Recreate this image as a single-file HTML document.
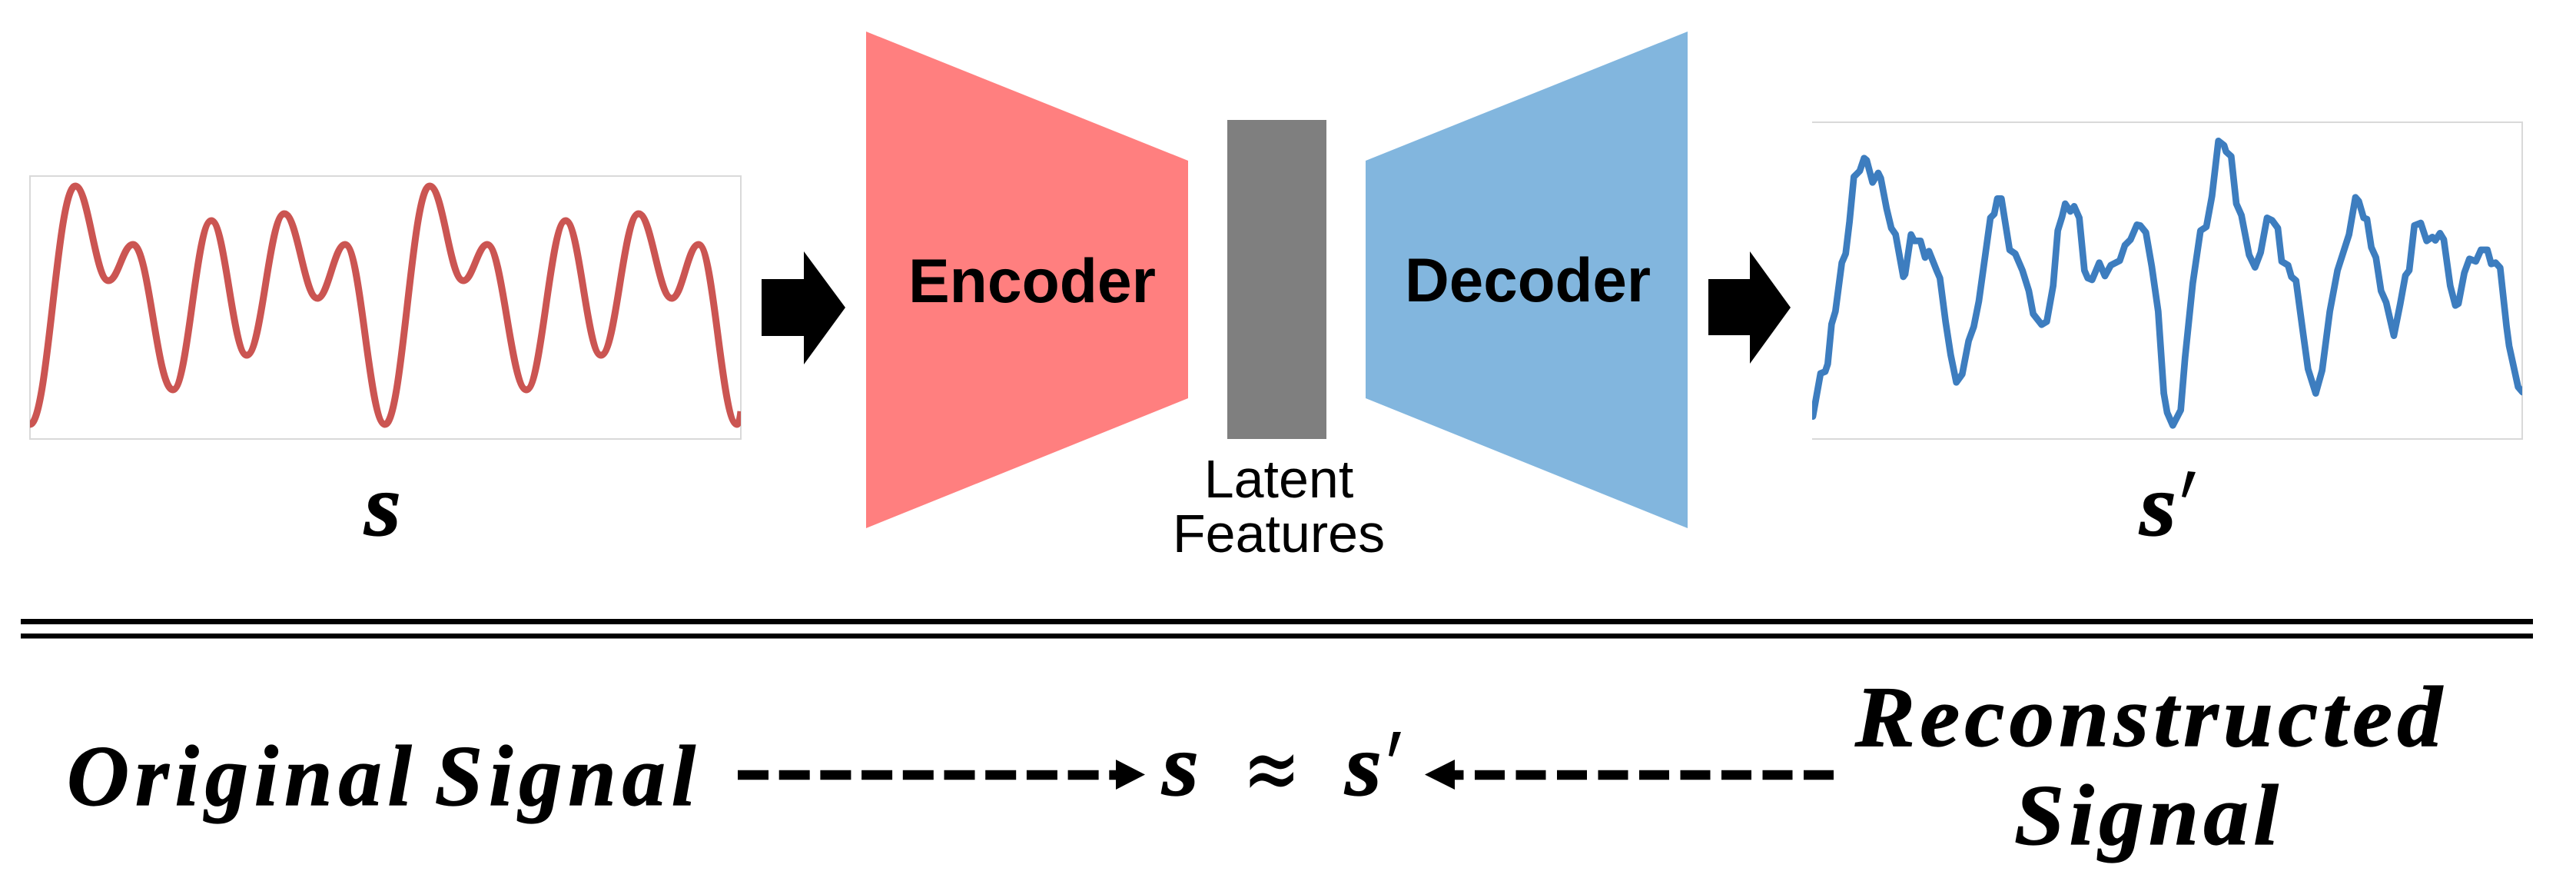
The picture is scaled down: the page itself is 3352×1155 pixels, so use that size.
<!DOCTYPE html>
<html><head><meta charset="utf-8"><style>
html,body{margin:0;padding:0;background:#fff}
svg{display:block}
text{font-family:"Liberation Serif",serif;font-weight:bold;font-style:italic;fill:#000}
text.m{stroke:#000;stroke-width:1.2px}
text.s{font-family:"Liberation Sans",Arial,sans-serif;font-style:normal}
</style></head><body>
<svg width="3352" height="1155" viewBox="0 0 3352 1155" xmlns="http://www.w3.org/2000/svg">
<defs>
<clipPath id="c1"><rect x="39" y="229" width="925" height="342"/></clipPath>
<clipPath id="c2"><rect x="2358" y="159" width="924" height="412"/></clipPath>
</defs>
<rect width="3352" height="1155" fill="#fff"/>
<rect x="39" y="229" width="925" height="342" fill="none" stroke="#d9d9d9" stroke-width="2"/>
<path clip-path="url(#c1)" fill="none" stroke="#cb5552" stroke-width="9" d="M39,552 C63,552 74,242 98,242 C115,242 124,365 141,365 C154,365 160,318 173,318 C194,318 204,507 225,507 C245,507 255,287 275,287 C293,287 303,462 321,462 C341,462 350,278 370,278 C387,278 396,388 413,388 C427,388 435,318 449,318 C470,318 480,552 501,552 C524,552 536,242 559,242 C577,242 585,365 603,365 C615,365 622,318 634,318 C654,318 665,507 685,507 C705,507 716,287 736,287 C754,287 764,462 782,462 C802,462 811,278 831,278 C848,278 857,388 874,388 C888,388 895,318 909,318 C929,318 939,552 959,552 C961,552 963,545 964,535"/>
<polygon points="991,363 1046,363 1046,327 1100,400 1046,474 1046,437 991,437" fill="#000"/>
<polygon points="1127,41 1546,209 1546,518 1127,687" fill="#ff7f7f"/>
<rect x="1597" y="156" width="129" height="415" fill="#7f7f7f"/>
<polygon points="2196,41 1777,209 1777,518 2196,687" fill="#82b6de"/>
<text class="s" x="1182" y="393" font-size="81" textLength="322" lengthAdjust="spacingAndGlyphs">Encoder</text>
<text class="s" x="1828" y="392" font-size="81" textLength="320" lengthAdjust="spacingAndGlyphs">Decoder</text>
<text class="s" x="1664" y="647" font-size="70" text-anchor="middle" style="font-weight:normal">Latent</text>
<text class="s" x="1664" y="718" font-size="70" text-anchor="middle" style="font-weight:normal">Features</text>
<polygon points="2223,363 2277,363 2277,327 2330,400 2277,473 2277,436 2223,436" fill="#000"/>
<path d="M2358,159H3282V571H2358" fill="none" stroke="#d9d9d9" stroke-width="2"/>
<g clip-path="url(#c2)" fill="none" stroke="#3d7dbf" stroke-width="26" stroke-linejoin="round" stroke-linecap="round">
<polyline transform="translate(2355,165) scale(.33333)" points="12,1130 28,1040 42,962 60,955 70,925 85,770 100,720 125,530 140,495 155,370 172,195 195,172 212,122 222,130 245,217 267,180 277,200 300,320 318,395 335,420 365,585 372,575 395,420 408,445 432,445 450,510 465,485 495,560 508,590 530,760 550,890 572,997 595,965 620,835 640,780 660,680 685,500 705,355 720,340 732,280 748,280 780,480 802,495 830,560 855,640 872,730 905,772 925,760 950,620 968,405 985,350 997,300 1017,330 1032,310 1052,355 1072,560 1085,590 1102,597 1130,530 1152,582 1175,540 1210,522 1230,462 1252,440 1277,382 1290,385 1312,412 1335,545 1360,720 1382,1040"/>
<polyline transform="translate(2815,165) scale(.33333)" points="2,1040 15,1115 37,1165 68,1105 85,900 115,610 145,405 168,390 190,270 215,55 237,72 245,97 265,115 285,300 305,345 335,500 358,548 380,490 405,355 425,365 447,395 462,525 487,540 500,585 518,600 545,800 565,945 595,1040 620,950 650,720 680,560 725,420 750,275 763,290 782,355 795,360 812,470 830,510 850,640 870,685 900,815 925,690 945,580 960,560 980,385 1005,375 1028,445 1050,430 1062,443 1080,415 1095,440 1120,620 1140,697 1152,690 1175,570 1195,515 1220,525 1240,480 1265,480 1280,535 1297,530 1315,550 1340,780 1350,855 1385,1015 1402,1035"/>
</g>
<text class="m" x="474" y="696" font-size="115" textLength="48" lengthAdjust="spacingAndGlyphs">s</text>
<text class="m" x="2784" y="696" font-size="115" textLength="48" lengthAdjust="spacingAndGlyphs">s</text>
<polygon points="2847,613 2857,614 2844,647 2839,646" fill="#000"/>
<rect x="27" y="805" width="3269" height="7" fill="#000"/>
<rect x="27" y="824" width="3269" height="6.5" fill="#000"/>
<text class="m" x="87" y="1047" font-size="112" textLength="826" lengthAdjust="spacingAndGlyphs" style="letter-spacing:8px;word-spacing:-14px">Original Signal</text>
<line x1="960" y1="1008" x2="1453" y2="1008" stroke="#000" stroke-width="12.5" stroke-dasharray="40 13.7"/>
<polygon points="1452,988 1490,1007.5 1452,1027" fill="#000"/>
<text class="m" x="1512" y="1034" font-size="115" textLength="48" lengthAdjust="spacingAndGlyphs">s</text>
<text transform="translate(1617,1041) scale(1,1.35)" x="0" y="0" font-size="90" style="font-weight:normal;font-style:normal;font-family:'DejaVu Sans',sans-serif">≈</text>
<text class="m" x="1750" y="1034" font-size="115" textLength="48" lengthAdjust="spacingAndGlyphs">s</text>
<polygon points="1813,952 1823,952 1812,984 1807,983" fill="#000"/>
<polygon points="1893,988 1854,1007.5 1893,1027" fill="#000"/>
<line x1="2386" y1="1008" x2="1893" y2="1008" stroke="#000" stroke-width="12.5" stroke-dasharray="39 14.5"/>
<text class="m" x="2414" y="970" font-size="112" textLength="770" lengthAdjust="spacingAndGlyphs" style="letter-spacing:6px">Reconstructed</text>
<text class="m" x="2621" y="1098" font-size="112" textLength="350" lengthAdjust="spacingAndGlyphs" style="letter-spacing:6px">Signal</text>
</svg>
</body></html>
